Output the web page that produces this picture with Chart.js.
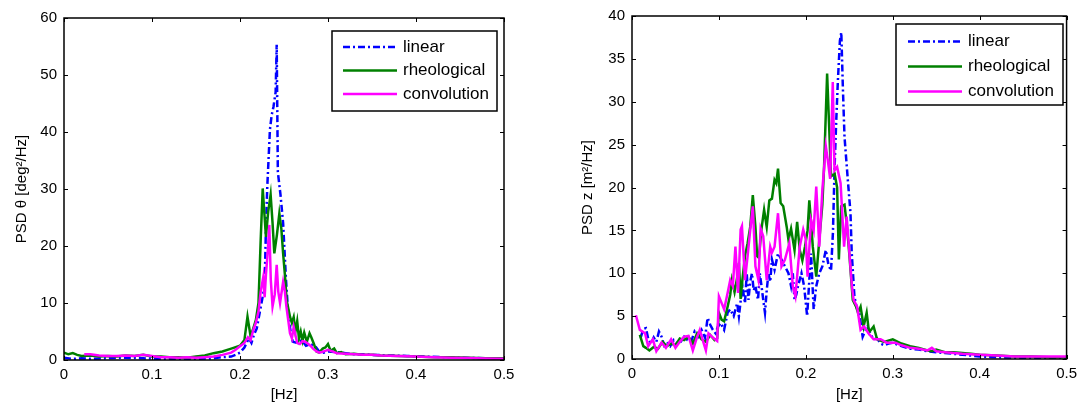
<!DOCTYPE html>
<html>
<head>
<meta charset="utf-8">
<script src="https://cdn.jsdelivr.net/npm/chart.js@4.4.0/dist/chart.umd.min.js"></script>
<style>
  body { margin: 0; background: #fff; }
  #wrap { position: relative; width: 1083px; height: 408px; }
  canvas { position: absolute; top: 0; }
  #thetaChart { left: 0; }
  #zChart { left: 545px; }
</style>
</head>
<body>
<div id="wrap">
  <canvas id="thetaChart" width="540" height="408"></canvas>
  <canvas id="zChart" width="538" height="408"></canvas>
</div>
<script>
// [frequency Hz, PSD] pairs
const thetaLinear = [
  [0,0.4],[0.01,0.2],[0.02,0.3],[0.03,0.2],[0.05,0.3],[0.07,0.4],[0.09,0.3],[0.11,0.2],[0.13,0.2],[0.15,0.2],
  [0.17,0.3],[0.18,0.5],[0.19,0.6],[0.195,0.9],[0.2,1.3],[0.205,2.2],[0.21,3.8],[0.213,3.0],[0.216,4.5],[0.219,5.5],
  [0.222,8],[0.225,10.5],[0.228,13],[0.2295,23.4],[0.231,30.4],[0.234,40.4],[0.236,43],[0.238,44.4],[0.2405,47],[0.2417,55.3],
  [0.243,33],[0.246,29],[0.249,24],[0.2523,14],[0.254,10],[0.256,6.5],[0.258,4.5],[0.26,3.2],[0.265,3],[0.27,3.5],
  [0.275,2.5],[0.28,2.8],[0.285,2.5],[0.29,1.5],[0.295,1.3],[0.3,1.5],[0.31,1.4],[0.32,1.2],[0.33,1.0],[0.34,1.0],
  [0.35,0.9],[0.37,0.8],[0.39,0.7],[0.41,0.6],[0.43,0.5],[0.45,0.4],[0.47,0.35],[0.5,0.2]
];
const thetaRheo = [
  [0,1.3],[0.005,1.0],[0.01,1.2],[0.015,0.9],[0.02,0.7],[0.03,0.8],[0.04,0.6],[0.05,0.7],[0.06,0.6],[0.07,0.8],
  [0.08,0.7],[0.09,0.9],[0.1,0.6],[0.11,0.6],[0.12,0.5],[0.13,0.5],[0.14,0.4],[0.15,0.6],[0.16,0.8],[0.17,1.2],
  [0.18,1.5],[0.19,2.0],[0.2,2.5],[0.205,3.5],[0.2085,7.6],[0.212,4.2],[0.215,5.5],[0.218,7],[0.221,10],[0.2235,21],
  [0.2258,30.1],[0.228,25],[0.2295,21.6],[0.232,26],[0.2348,29],[0.237,24],[0.239,18.7],[0.242,22],[0.2447,25.7],[0.247,23],
  [0.249,18.7],[0.251,15],[0.253,10.5],[0.2568,7.6],[0.259,6.5],[0.261,7.5],[0.263,5],[0.265,6.8],[0.267,3.8],[0.269,5],
  [0.271,3.4],[0.273,4.8],[0.276,3.2],[0.279,4.7],[0.281,4],[0.284,2.8],[0.287,1.5],[0.29,1.3],[0.294,2],[0.297,2.2],
  [0.3,2.8],[0.303,1.6],[0.307,2],[0.31,1.2],[0.315,1.4],[0.32,1.0],[0.33,1.1],[0.34,0.9],[0.35,0.9],[0.36,0.8],
  [0.38,0.7],[0.4,0.6],[0.42,0.5],[0.44,0.5],[0.46,0.4],[0.48,0.3],[0.5,0.3]
];
const thetaConv = [
  [0.023,1.0],[0.03,1.0],[0.04,0.8],[0.05,0.7],[0.06,0.7],[0.07,0.8],[0.08,0.7],[0.09,0.9],[0.1,0.7],[0.11,0.5],
  [0.12,0.5],[0.13,0.4],[0.14,0.5],[0.15,0.4],[0.16,0.5],[0.17,0.6],[0.18,0.9],[0.19,1.3],[0.195,1.8],[0.2,2.4],
  [0.205,3.0],[0.209,4.0],[0.212,3.5],[0.215,5.2],[0.218,6.5],[0.221,8.5],[0.2235,12],[0.2265,14.6],[0.228,11],[0.2295,15],
  [0.2315,19],[0.2333,23.7],[0.235,14],[0.237,9.4],[0.2395,11.5],[0.2417,16.7],[0.2435,12],[0.2455,10],[0.249,13.7],[0.251,12],
  [0.2527,9.4],[0.2548,7],[0.2568,4.7],[0.259,3.8],[0.261,5.8],[0.263,4.4],[0.265,3],[0.268,2.8],[0.271,3.3],[0.274,3.2],
  [0.277,2.9],[0.28,2.5],[0.283,2.0],[0.287,1.5],[0.29,1.3],[0.293,1.4],[0.297,1.6],[0.3,1.8],[0.305,1.5],[0.31,1.2],
  [0.32,1.1],[0.33,1.0],[0.34,0.9],[0.35,0.9],[0.36,0.8],[0.38,0.7],[0.4,0.6],[0.42,0.5],[0.44,0.4],[0.46,0.35],
  [0.48,0.25],[0.5,0.2]
];

const zLinear = [
  [0.01,2.5],[0.013,3.5],[0.016,3.6],[0.019,2.2],[0.022,1.8],[0.025,2.5],[0.028,2.0],[0.031,3.2],[0.034,2.6],[0.037,1.6],
  [0.04,2.0],[0.044,1.5],[0.048,2.2],[0.052,1.8],[0.056,2.0],[0.06,2.6],[0.064,2.2],[0.068,2.0],[0.072,3.2],[0.076,2.6],
  [0.08,3.4],[0.084,2.5],[0.087,4.8],[0.09,4.0],[0.093,3.4],[0.096,3.0],[0.099,3.8],[0.102,4.2],[0.106,3.4],[0.11,5.4],
  [0.113,5.8],[0.117,5.0],[0.121,6.5],[0.123,5.0],[0.127,8.5],[0.13,6.5],[0.132,10],[0.134,6.9],[0.136,9],[0.138,10],
  [0.14,8],[0.142,8.5],[0.145,6.9],[0.147,10],[0.149,8.5],[0.151,6.9],[0.153,5.4],[0.155,8],[0.157,10],[0.159,9],
  [0.161,11.6],[0.164,10.4],[0.168,12.3],[0.172,11.6],[0.176,10.8],[0.18,10],[0.183,8.5],[0.185,10],[0.187,6.9],[0.189,7.5],
  [0.191,8.5],[0.195,10],[0.198,8.5],[0.2015,5.0],[0.204,9.2],[0.206,12.3],[0.209,5.8],[0.212,8.5],[0.2155,10],[0.219,10.8],
  [0.223,12.7],[0.226,11],[0.229,10.3],[0.2312,14.8],[0.2331,22.4],[0.235,27.8],[0.2369,32.5],[0.2392,37.1],[0.2408,38.1],[0.2426,31.7],
  [0.2445,25.9],[0.2483,20.9],[0.2514,17],[0.2528,12.4],[0.2559,7.3],[0.2585,6],[0.2614,5.4],[0.2654,2.6],[0.268,3.2],[0.271,3.8],
  [0.275,2.8],[0.278,2.3],[0.282,2.4],[0.286,1.8],[0.29,1.6],[0.295,1.8],[0.3,1.9],[0.31,1.5],[0.32,1.2],[0.33,1.1],
  [0.34,0.9],[0.35,0.8],[0.36,0.7],[0.37,0.6],[0.38,0.5],[0.39,0.4],[0.4,0.3],[0.42,0.2],[0.44,0.15],[0.46,0.15],
  [0.48,0.1],[0.5,0.1]
];
const zRheo = [
  [0.009,2.8],[0.013,1.5],[0.016,1.3],[0.02,1.0],[0.025,1.4],[0.03,1.2],[0.035,2.0],[0.04,1.5],[0.045,1.8],[0.05,1.6],
  [0.055,2.4],[0.06,2.2],[0.065,2.6],[0.07,1.8],[0.075,3.0],[0.08,2.3],[0.085,2.0],[0.09,2.8],[0.095,2.2],[0.098,2.4],
  [0.1,5.4],[0.103,4.6],[0.106,4.4],[0.11,6.1],[0.113,7.5],[0.115,9.2],[0.118,7.8],[0.121,9.5],[0.123,11.2],[0.125,7.0],
  [0.127,9.2],[0.13,12],[0.133,13.5],[0.136,15.4],[0.139,19.1],[0.142,15.4],[0.144,12],[0.146,11.8],[0.149,15.2],[0.152,17.4],
  [0.155,15.4],[0.158,18.5],[0.161,18.7],[0.164,20.9],[0.166,20.5],[0.168,22.2],[0.171,18.2],[0.174,17.8],[0.178,15.4],[0.18,13.9],
  [0.183,15.2],[0.187,12.7],[0.19,16],[0.193,12.7],[0.196,11.5],[0.199,13.1],[0.202,15],[0.204,18.5],[0.206,16],[0.208,13.1],
  [0.212,9.6],[0.2155,13.9],[0.219,18],[0.221,22.4],[0.2245,33.3],[0.229,21.3],[0.2331,21.6],[0.236,20],[0.238,11.6],[0.2407,17.8],
  [0.2445,18],[0.247,15.8],[0.25,12.3],[0.254,6.9],[0.2578,6.1],[0.26,5.4],[0.263,6.1],[0.2665,3.8],[0.27,5.4],[0.2727,3.1],
  [0.278,3.8],[0.282,2.3],[0.29,2.0],[0.3,2.3],[0.31,1.8],[0.32,1.5],[0.33,1.3],[0.34,1.0],[0.345,0.9],[0.35,1.1],
  [0.36,0.8],[0.37,0.8],[0.38,0.7],[0.39,0.6],[0.4,0.5],[0.42,0.4],[0.44,0.3],[0.46,0.3],[0.48,0.2],[0.5,0.2]
];
const zConv = [
  [0.0045,5.1],[0.009,3.4],[0.015,3.0],[0.0186,1.5],[0.024,2.3],[0.028,0.9],[0.034,1.9],[0.039,1.3],[0.045,2.3],[0.05,1.3],
  [0.055,2.0],[0.06,2.6],[0.065,2.7],[0.07,1.0],[0.075,2.6],[0.078,3.4],[0.082,2.0],[0.085,1.0],[0.088,3.0],[0.093,2.5],
  [0.098,2.1],[0.1,7.3],[0.106,5.8],[0.11,7.7],[0.113,9.2],[0.116,8.5],[0.119,13.1],[0.122,7.7],[0.125,15.1],[0.1265,15.5],
  [0.13,9.2],[0.133,12],[0.136,15],[0.139,17.8],[0.142,10.8],[0.1455,9.2],[0.148,15.2],[0.151,14.3],[0.155,9.2],[0.159,13.1],
  [0.161,12.4],[0.164,13.1],[0.168,17],[0.172,10.8],[0.176,11.6],[0.181,13.5],[0.185,8.5],[0.188,7.3],[0.193,13.1],[0.197,15.1],
  [0.2,13.9],[0.202,9.6],[0.206,16.2],[0.209,15],[0.212,20.1],[0.2155,13.1],[0.219,19.7],[0.223,24.8],[0.225,23.4],[0.228,21],
  [0.231,32.3],[0.233,22],[0.236,22.4],[0.24,20.5],[0.244,13.1],[0.247,16.6],[0.2496,13.1],[0.253,8.5],[0.255,6.9],[0.259,6.1],
  [0.263,3.4],[0.267,3.8],[0.272,3.0],[0.278,2.3],[0.286,2.3],[0.293,1.9],[0.303,1.9],[0.31,1.6],[0.32,1.3],[0.33,1.2],
  [0.34,1.0],[0.345,1.3],[0.35,0.9],[0.36,0.8],[0.37,0.7],[0.38,0.6],[0.4,0.5],[0.42,0.4],[0.44,0.3],[0.46,0.3],
  [0.48,0.3],[0.5,0.3]
];

const seriesNames = ['linear', 'rheological', 'convolution'];
const xTicks = { min: 0, max: 0.5, step: 0.1 };

const FONT = "'Liberation Sans', Arial, sans-serif";

function pts(pairs) { return pairs.map(p => ({ x: p[0], y: p[1] })); }

// later series are painted over earlier ones (higher order = drawn first)
function datasets(lin, rheo, conv) {
  return [
    { label: seriesNames[0], data: pts(lin), borderColor: '#0000ff', borderWidth: 2.5, borderDash: [7, 3, 2, 3], order: 3 },
    { label: seriesNames[1], data: pts(rheo), borderColor: '#008000', borderWidth: 2.5, order: 2 },
    { label: seriesNames[2], data: pts(conv), borderColor: '#ff00ff', borderWidth: 2.5, order: 1 }
  ];
}

// closed box with short inward ticks on every side
const boxTicks = {
  id: 'boxTicks',
  afterDatasetsDraw(chart) {
    const { ctx, chartArea: a, scales: { x, y } } = chart;
    ctx.save();
    ctx.strokeStyle = '#000';
    ctx.lineWidth = 1;
    ctx.beginPath();
    x.ticks.forEach(t => {
      const px = Math.round(x.getPixelForValue(t.value)) + 0.5;
      ctx.moveTo(px, a.bottom); ctx.lineTo(px, a.bottom - 4);
      ctx.moveTo(px, a.top); ctx.lineTo(px, a.top + 4);
    });
    y.ticks.forEach(t => {
      const py = Math.round(y.getPixelForValue(t.value)) + 0.5;
      ctx.moveTo(a.left, py); ctx.lineTo(a.left + 4, py);
      ctx.moveTo(a.right, py); ctx.lineTo(a.right - 4, py);
    });
    ctx.stroke();
    ctx.lineWidth = 1.5;
    ctx.strokeRect(a.left, a.top, a.right - a.left, a.bottom - a.top);
    ctx.restore();
  }
};

// boxed legend in the upper right corner
const boxLegend = {
  id: 'boxLegend',
  afterDraw(chart, args, o) {
    const ctx = chart.ctx;
    ctx.save();
    ctx.fillStyle = '#fff';
    ctx.fillRect(o.left, o.top, o.width, o.height);
    ctx.strokeStyle = '#000';
    ctx.lineWidth = 1.5;
    ctx.strokeRect(o.left, o.top, o.width, o.height);
    ctx.font = o.fontSize + 'px ' + FONT;
    ctx.textBaseline = 'middle';
    chart.data.datasets.forEach((ds, i) => {
      const ry = o.top + o.firstRow + i * o.rowGap;
      ctx.strokeStyle = ds.borderColor;
      ctx.lineWidth = ds.borderWidth;
      ctx.setLineDash(ds.borderDash || []);
      ctx.beginPath();
      ctx.moveTo(o.left + o.lineStart, ry);
      ctx.lineTo(o.left + o.lineStart + 54, ry);
      ctx.stroke();
      ctx.setLineDash([]);
      ctx.fillStyle = '#000';
      ctx.fillText(ds.label, o.left + o.lineStart + 60, ry);
    });
    ctx.restore();
  }
};

function makeChart(id, sets, yMax, yStep, yTitle, box, legendOpts) {
  return new Chart(document.getElementById(id), {
    type: 'line',
    data: { datasets: sets },
    options: {
      responsive: false,
      animation: false,
      devicePixelRatio: 1,
      elements: { point: { radius: 0 }, line: { tension: 0, fill: false } },
      layout: { padding: { left: 0, top: box.top, right: box.right, bottom: 0 } },
      plugins: { legend: { display: false }, tooltip: { enabled: false }, boxLegend: legendOpts },
      scales: {
        x: {
          type: 'linear', min: xTicks.min, max: xTicks.max,
          ticks: { stepSize: xTicks.step, padding: 6, color: '#000', font: { family: FONT, size: 15 } },
          grid: { display: false, drawTicks: false },
          border: { display: false },
          title: { display: true, text: '[Hz]', color: '#000', font: { family: FONT, size: 15 }, padding: { top: 0, bottom: 4 } },
          afterFit: s => { s.height = box.xHeight; }
        },
        y: {
          min: 0, max: yMax,
          ticks: { stepSize: yStep, padding: 7, color: '#000', font: { family: FONT, size: 15 } },
          grid: { display: false, drawTicks: false },
          border: { display: false },
          title: { display: true, text: yTitle, color: '#000', font: { family: FONT, size: 15 }, padding: { top: box.titlePad, bottom: 0 } },
          afterFit: s => { s.width = box.yWidth; }
        }
      }
    },
    plugins: [boxTicks, boxLegend]
  });
}

makeChart('thetaChart', datasets(thetaLinear, thetaRheo, thetaConv), 60, 10, 'PSD \u03b8 [deg\u00b2/Hz]',
  { top: 18, right: 36, xHeight: 48, yWidth: 64, titlePad: 13 },
  { left: 332, top: 31, width: 165, height: 80, firstRow: 16, rowGap: 23.5, lineStart: 11, fontSize: 17 });

makeChart('zChart', datasets(zLinear, zRheo, zConv), 40, 5, 'PSD z [m\u00b2/Hz]',
  { top: 15, right: 12, xHeight: 49, yWidth: 87, titlePad: 34 },
  { left: 351, top: 24, width: 167, height: 81, firstRow: 17.5, rowGap: 25, lineStart: 12, fontSize: 17 });
</script>
</body>
</html>
